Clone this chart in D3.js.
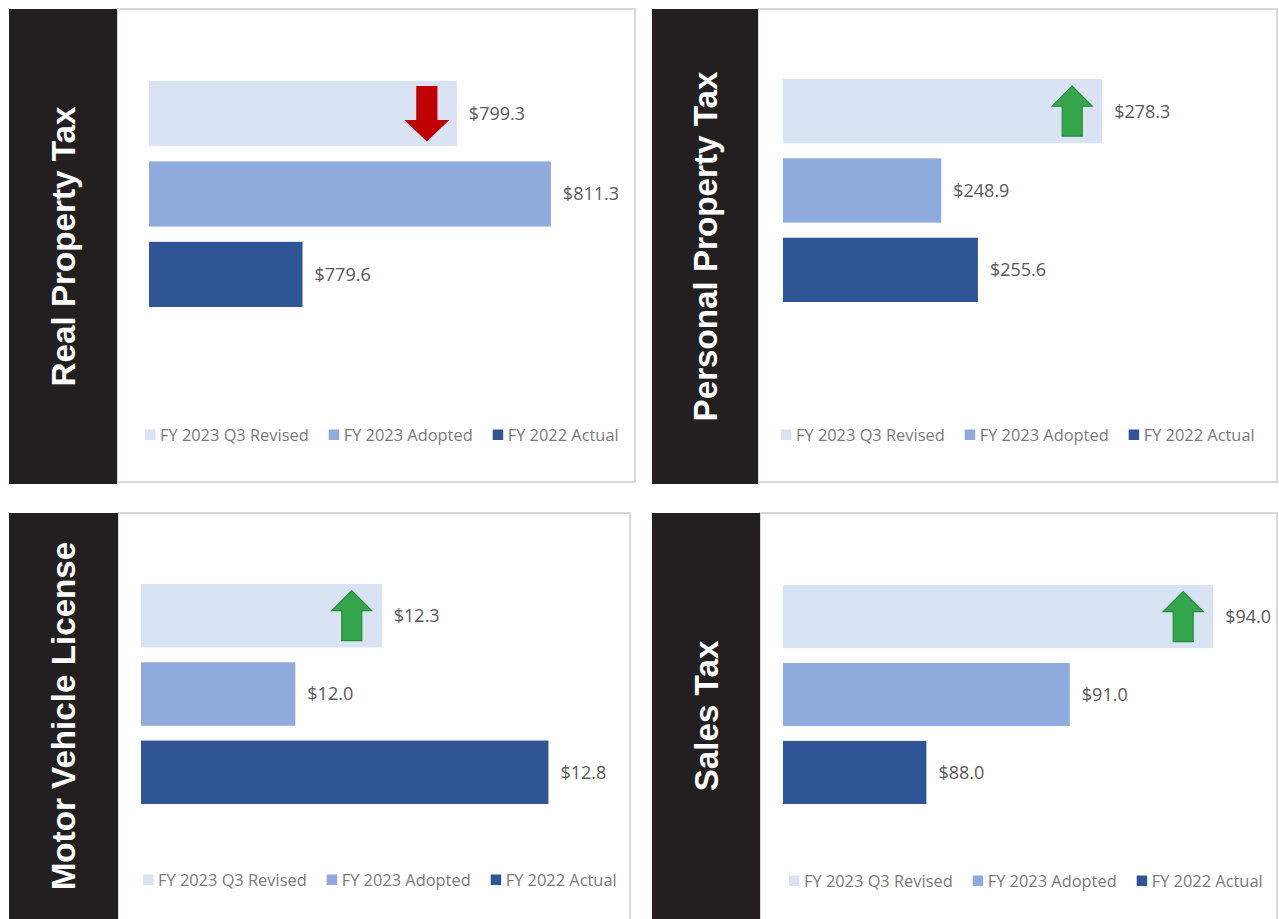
<!DOCTYPE html>
<html>
<head>
<meta charset="utf-8">
<script src="https://cdn.jsdelivr.net/npm/d3@7"></script>
<style>
  html, body { margin: 0; padding: 0; background: #ffffff; }
  svg { display: block; }
</style>
</head>
<body>
<svg id="chart" width="1279" height="919"></svg>
<script>
// ---- Data ----
const panelTitles = ["Real Property Tax", "Personal Property Tax", "Motor Vehicle License", "Sales Tax"];
const seriesNames = ["FY 2023 Q3 Revised", "FY 2023 Adopted", "FY 2022 Actual"];
const revisedValues = [799.3, 278.3, 12.28, 94.0];
const adoptedValues = [811.3, 248.9, 12.0, 91.0];
const actualValues  = [779.6, 255.6, 12.82, 88.0];
const axisMin = [760, 220, 11.5, 85];
const axisMax = [820, 300, 13.0, 95];
const trendDirection = ["down", "up", "up", "up"];

// ---- Layout (positions / styles) ----
const layout = [
  { dark: [9, 9, 108, 475], box: [117, 9, 518, 473], x: [149, 619], y: [81, 307], legend: [145, 435] },
  { dark: [652, 9, 106, 475], box: [758, 9, 519, 473], x: [783, 1221], y: [79, 302], legend: [781, 435] },
  { dark: [9, 513, 109, 410], box: [118, 513, 512, 410], x: [141, 604], y: [584, 804], legend: [143, 880] },
  { dark: [652, 513, 108, 410], box: [760, 513, 517, 410], x: [783, 1261], y: [585, 804], legend: [789, 881] }
];
const colors = ["#dae3f3", "#8faadc", "#2f5597"];

const svg = d3.select("#chart");

// measuring helper
const measure = svg.append("text").attr("font-family", "'Open Sans', sans-serif").attr("font-size", 16.4).attr("visibility", "hidden");
function textWidth(s) { measure.text(s); return measure.node().getComputedTextLength(); }

panelTitles.forEach((title, i) => {
  const L = layout[i];
  const g = svg.append("g");

  // white plot box with light border
  g.append("rect")
    .attr("x", L.box[0]).attr("y", L.box[1])
    .attr("width", L.box[2]).attr("height", L.box[3])
    .attr("fill", "#ffffff").attr("stroke", "#d9d9d9").attr("stroke-width", 2);

  // dark title strip
  g.append("rect")
    .attr("x", L.dark[0]).attr("y", L.dark[1])
    .attr("width", L.dark[2]).attr("height", L.dark[3])
    .attr("fill", "#231f20");

  const tcx = L.dark[0] + L.dark[2] / 2;
  const tcy = L.dark[1] + Math.min(L.dark[3], 919 - L.dark[1]) / 2;
  g.append("text")
    .attr("transform", `translate(${tcx},${tcy}) rotate(-90)`)
    .attr("text-anchor", "middle")
    .attr("dy", "0.36em")
    .attr("font-family", "'Liberation Sans', Arial, sans-serif")
    .attr("font-weight", "bold")
    .attr("font-size", 33.2)
    .attr("fill", "#ffffff")
    .text(title);

  const vals = [revisedValues[i], adoptedValues[i], actualValues[i]];
  const x = d3.scaleLinear().domain([axisMin[i], axisMax[i]]).range(L.x);
  const y = d3.scaleBand().domain(seriesNames).range(L.y).paddingInner(0.19).paddingOuter(0);

  seriesNames.forEach((s, j) => {
    g.append("rect")
      .attr("x", x(axisMin[i]))
      .attr("y", y(s))
      .attr("width", x(vals[j]) - x(axisMin[i]))
      .attr("height", y.bandwidth())
      .attr("fill", colors[j]);

    g.append("text")
      .attr("x", x(vals[j]) + 12)
      .attr("y", y(s) + y.bandwidth() / 2)
      .attr("dy", "0.36em")
      .attr("font-family", "'Open Sans', sans-serif")
      .attr("font-size", 18)
      .attr("fill", "#595959")
      .text("$" + vals[j].toFixed(1));
  });

  // trend arrow on the revised bar
  const acx = x(vals[0]) - 30;
  const acy = y(seriesNames[0]) + y.bandwidth() / 2;
  const hh = 25, headH = 20, hw = 20, sw = 10;
  let pts;
  if (trendDirection[i] === "up") {
    pts = [[0, -hh], [hw, -hh + headH], [sw, -hh + headH], [sw, hh], [-sw, hh], [-sw, -hh + headH], [-hw, -hh + headH]];
  } else {
    pts = [[0, hh + 2], [hw + 1, hh + 2 - headH], [sw, hh + 2 - headH], [sw, -hh - 2], [-sw, -hh - 2], [-sw, hh + 2 - headH], [-hw - 1, hh + 2 - headH]];
  }
  g.append("path")
    .attr("d", d3.line()(pts.map(p => [acx + p[0], acy + p[1]])) + "Z")
    .attr("fill", trendDirection[i] === "up" ? "#36a64c" : "#c00000")
    .attr("stroke", trendDirection[i] === "up" ? "#1f8f3e" : "#c00000")
    .attr("stroke-width", 1.2)
    .attr("stroke-linejoin", "miter");

  // legend
  let lx = L.legend[0];
  const ly = L.legend[1];
  seriesNames.forEach((s, j) => {
    g.append("rect")
      .attr("x", lx).attr("y", ly - 5.5)
      .attr("width", 10.5).attr("height", 10.5)
      .attr("fill", colors[j]);
    g.append("text")
      .attr("x", lx + 15)
      .attr("y", ly)
      .attr("dy", "0.36em")
      .attr("font-family", "'Open Sans', sans-serif")
      .attr("font-size", 16.4)
      .attr("fill", "#7a7a7a")
      .text(s);
    lx += 15 + textWidth(s) + 20;
  });
});
measure.remove();
</script>
</body>
</html>
